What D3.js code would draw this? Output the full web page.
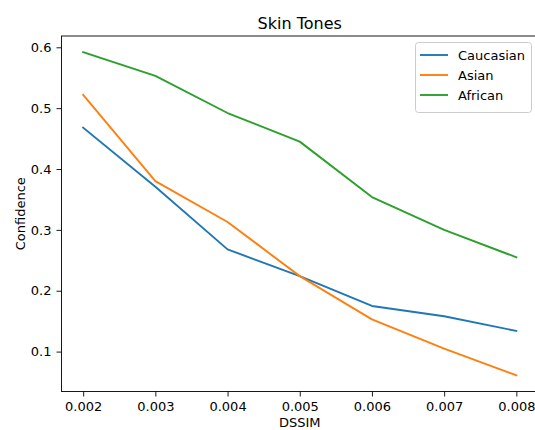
<!DOCTYPE html>
<html>
<head>
<meta charset="utf-8">
<script src="https://cdn.jsdelivr.net/npm/d3@7"></script>
<style>
  html, body { margin: 0; padding: 0; background: #fff; }
  svg { display: block; font-family: "DejaVu Sans", sans-serif; }
</style>
</head>
<body>
<svg id="chart" width="535" height="430"></svg>
<script>
const dssim = [0.002, 0.003, 0.004, 0.005, 0.006, 0.007, 0.008];
const caucasian = [0.468, 0.371, 0.268, 0.224, 0.175, 0.158, 0.134];
const asian = [0.522, 0.380, 0.313, 0.224, 0.153, 0.105, 0.061];
const african = [0.592, 0.553, 0.492, 0.445, 0.354, 0.300, 0.255];
const seriesNames = ["Caucasian", "Asian", "African"];
const seriesColors = ["#1f77b4", "#ff7f0e", "#2ca02c"];
const xTicks = [0.002, 0.003, 0.004, 0.005, 0.006, 0.007, 0.008];
const yTicks = [0.1, 0.2, 0.3, 0.4, 0.5, 0.6];

(function () {
const svg = d3.select("#chart");
const pLeft = 61.5, pRight = 538, pTop = 36, pBottom = 391.5;

const allY = caucasian.concat(asian, african);
const yMin = d3.min(allY), yMax = d3.max(allY);
const yPad = (yMax - yMin) * 0.05;
const xPad = (d3.max(dssim) - d3.min(dssim)) * 0.05;

const x = d3.scaleLinear().domain([d3.min(dssim) - xPad, d3.max(dssim) + xPad]).range([pLeft, pRight]);
const y = d3.scaleLinear().domain([yMin - yPad, yMax + yPad]).range([pBottom, pTop]);

// lines
const series = [caucasian, asian, african];
const line = d3.line().x((d, i) => x(dssim[i])).y(d => y(d));
series.forEach((s, k) => {
  svg.append("path").datum(s)
    .attr("d", line)
    .attr("fill", "none")
    .attr("stroke", seriesColors[k])
    .attr("stroke-width", 1.9)
    .attr("stroke-linejoin", "round")
    .attr("stroke-linecap", "square");
});

// axes
const xAxis = d3.axisBottom(x).tickValues(xTicks).tickFormat(d3.format(".3f")).tickSizeOuter(0).tickSize(5).tickPadding(5);
const yAxis = d3.axisLeft(y).tickValues(yTicks).tickFormat(d3.format(".1f")).tickSizeOuter(0).tickSize(5).tickPadding(5);

const gx = svg.append("g").attr("transform", `translate(0,${pBottom})`).call(xAxis);
const gy = svg.append("g").attr("transform", `translate(${pLeft},0)`).call(yAxis);
[gx, gy].forEach(g => {
  g.select(".domain").remove();
  g.selectAll("text").attr("font-size", 13).attr("fill", "#000").attr("font-family", "DejaVu Sans, sans-serif");
  g.selectAll("line").attr("stroke", "#000").attr("stroke-width", 0.9);
});

// spines
svg.append("rect").attr("x", pLeft).attr("y", pTop).attr("width", pRight - pLeft).attr("height", pBottom - pTop)
  .attr("fill", "none").attr("stroke", "#000").attr("stroke-width", 0.9);

// title and labels
svg.append("text").attr("x", (pLeft + pRight) / 2).attr("y", 29).attr("text-anchor", "middle")
  .attr("font-size", 16).attr("fill", "#000").text("Skin Tones");
svg.append("text").attr("x", (pLeft + pRight) / 2).attr("y", 427).attr("text-anchor", "middle")
  .attr("font-size", 13).attr("fill", "#000").text("DSSIM");
svg.append("text").attr("transform", `translate(25,${(pTop + pBottom) / 2}) rotate(-90)`).attr("text-anchor", "middle")
  .attr("font-size", 13).attr("fill", "#000").text("Confidence");

// legend
const lg = svg.append("g");
lg.append("rect").attr("x", 415.5).attr("y", 42.5).attr("width", 116).attr("height", 70).attr("rx", 3)
  .attr("fill", "#fff").attr("fill-opacity", 0.8).attr("stroke", "#ccc").attr("stroke-width", 1);
seriesNames.forEach((n, i) => {
  const yy = 55 + i * 20;
  lg.append("line").attr("x1", 420).attr("x2", 448).attr("y1", yy).attr("y2", yy)
    .attr("stroke", seriesColors[i]).attr("stroke-width", 1.9);
  lg.append("text").attr("x", 458).attr("y", yy).attr("dy", "0.35em")
    .attr("font-size", 13).attr("fill", "#000").text(n);
});
})();
</script>
</body>
</html>
